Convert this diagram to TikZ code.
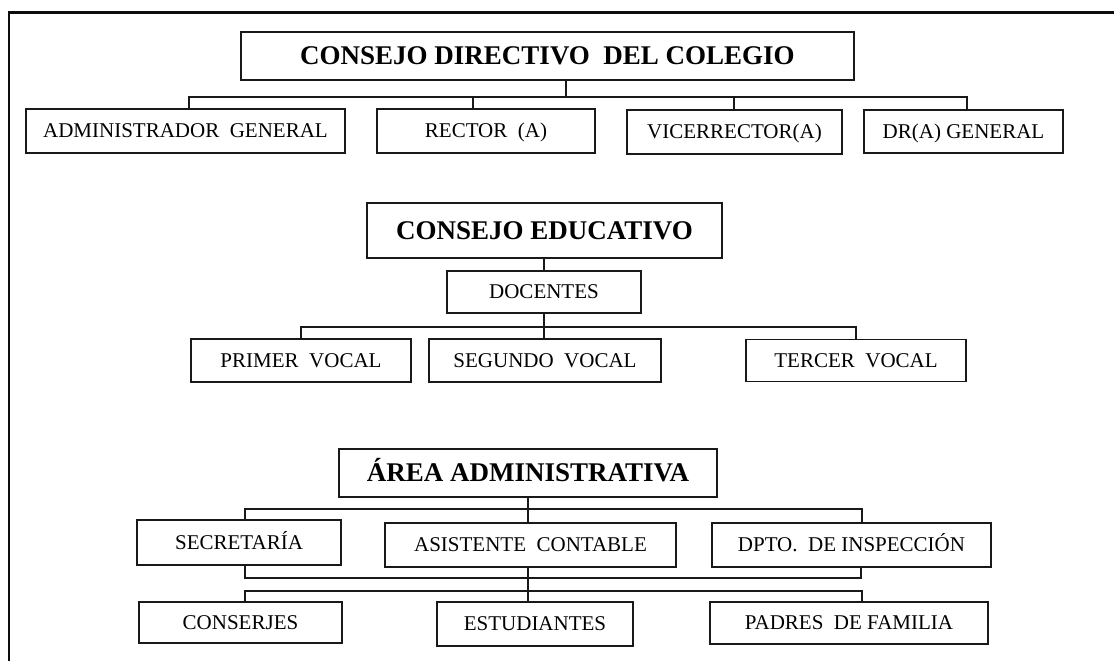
\documentclass[tikz,border=0pt]{standalone}
\usepackage{fontspec}
\setmainfont{Liberation Serif}
\begin{document}
\begin{tikzpicture}[x=1pt,y=-1pt]
\tikzset{
 bx/.style={draw=black!90, line width=1.2pt, inner sep=0pt, text height=13.9pt, text depth=0pt, font=\fontsize{21}{24}\selectfont},
 tbx/.style={bx, text height=17.9pt, font=\fontsize{27}{30}\selectfont\bfseries},
 conn/.style={line width=1.1pt, draw=black!90},
 frame/.style={line width=2.6pt, draw=black!95},
}
\useasboundingbox (0,0) rectangle (1114,661);
\draw[frame] (9,662) -- (9,12.5) -- (1116,12.5);

% Section 1
\node[tbx, minimum width=613pt, minimum height=48pt] (cd) at (547.5,56) {CONSEJO DIRECTIVO\ \ DEL COLEGIO};
\node[bx, minimum width=319pt, minimum height=44pt] (adm) at (185.5,131) {ADMINISTRADOR\ \ GENERAL};
\node[bx, minimum width=218pt, minimum height=44pt] (rec) at (486,131) {RECTOR\ \ (A)};
\node[bx, minimum width=215pt, minimum height=44pt] (vic) at (734.5,132) {VICERRECTOR(A)};
\node[bx, minimum width=199pt, minimum height=43pt] (dr) at (963.5,131.5) {DR(A) GENERAL};
\coordinate (t1) at (566,97);
\coordinate (b1a) at (189,97);
\coordinate (b1b) at (473,97);
\coordinate (b1c) at (734,97);
\coordinate (b1d) at (967,97);
\draw[conn] (cd.south -| t1) -- (t1);
\draw[conn] (adm.north -| b1a) -- (b1a) -- (b1d) -- (dr.north -| b1d);
\draw[conn] (b1b) -- (rec.north -| b1b);
\draw[conn] (b1c) -- (vic.north -| b1c);

% Section 2
\node[tbx, minimum width=355pt, minimum height=55pt] (ce) at (544.5,230.5) {CONSEJO EDUCATIVO};
\node[bx, minimum width=194pt, minimum height=42pt] (doc) at (544,292) {DOCENTES};
\node[bx, minimum width=220pt, minimum height=43pt] (pv) at (301,360.5) {PRIMER\ \ VOCAL};
\node[bx, minimum width=232pt, minimum height=43pt] (sv) at (545,360.5) {SEGUNDO\ \ VOCAL};
\node[bx, minimum width=220pt, minimum height=42pt] (tv) at (856,360.5) {TERCER\ \ VOCAL};
\coordinate (b2) at (544,327);
\draw[conn] (ce.south -| doc.north) -- (doc.north);
\draw[conn] (doc.south) -- (doc.south |- sv.north);
\draw[conn] (pv.north) -- (pv.north |- b2) -- (tv.north |- b2) -- (tv.north);

% Section 3
\node[tbx, minimum width=378pt, minimum height=48pt] (aa) at (528,473) {ÁREA ADMINISTRATIVA};
\node[bx, minimum width=204pt, minimum height=45pt] (sec) at (239,542.5) {SECRETARÍA};
\node[bx, minimum width=291pt, minimum height=44pt] (asi) at (530.5,545) {ASISTENTE\ \ CONTABLE};
\node[bx, minimum width=279pt, minimum height=44pt] (dpto) at (851.5,545) {DPTO.\ \ DE INSPECCIÓN};
\node[bx, minimum width=203pt, minimum height=41pt] (con) at (240.5,622.5) {CONSERJES};
\node[bx, minimum width=196pt, minimum height=44pt] (est) at (535,624) {ESTUDIANTES};
\node[bx, minimum width=278pt, minimum height=42pt] (pad) at (849,623) {PADRES\ \ DE FAMILIA};
\coordinate (s3a) at (245,509);
\coordinate (s3b) at (862,509);
\coordinate (k1) at (245,578);
\coordinate (k2) at (861,578);
\coordinate (m1) at (245,591);
\coordinate (m2) at (862,591);
\draw[conn] (aa.south) -- (aa.south |- asi.north);
\draw[conn] (sec.north -| s3a) -- (s3a) -- (s3b) -- (dpto.north -| s3b);
\draw[conn] (sec.south -| k1) -- (k1) -- (k2) -- (dpto.south -| k2);
\draw[conn] (asi.south -| aa.south) -- (est.north -| aa.south);
\draw[conn] (con.north -| m1) -- (m1) -- (m2) -- (pad.north -| m2);
\end{tikzpicture}
\end{document}
